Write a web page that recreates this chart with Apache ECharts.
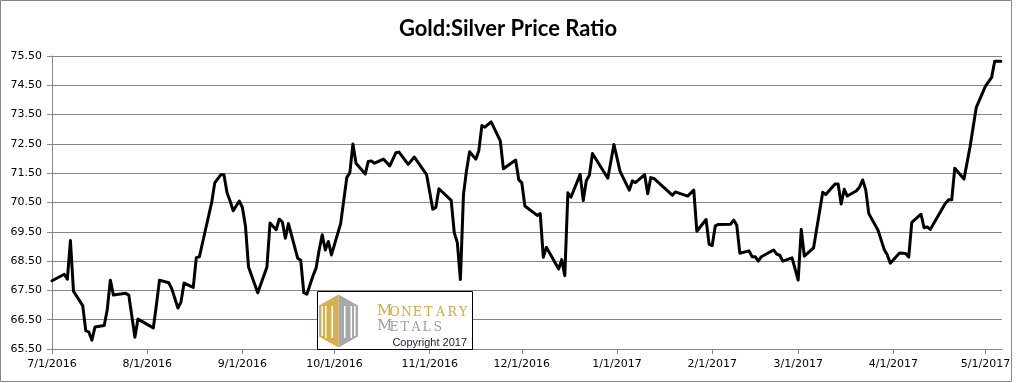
<!DOCTYPE html>
<html><head><meta charset="utf-8">
<script src="https://cdn.jsdelivr.net/npm/echarts@6/dist/echarts.min.js"></script>
<style>html,body{margin:0;padding:0;background:#fff}#c{width:1016px;height:383px}</style>
</head><body><div id="c"></div>
<script>
const chartTitle = 'Gold:Silver Price Ratio';
const dates = [
'2016-07-01','2016-07-05','2016-07-06','2016-07-07','2016-07-08','2016-07-11','2016-07-12','2016-07-13','2016-07-14','2016-07-15',
'2016-07-18','2016-07-19','2016-07-20','2016-07-21','2016-07-25','2016-07-26','2016-07-28','2016-07-29','2016-08-03','2016-08-04',
'2016-08-05','2016-08-08','2016-08-09','2016-08-11','2016-08-12','2016-08-13','2016-08-16','2016-08-17','2016-08-18','2016-08-20',
'2016-08-22','2016-08-23','2016-08-25','2016-08-26','2016-08-27','2016-08-28','2016-08-29','2016-08-31','2016-09-01','2016-09-02',
'2016-09-03','2016-09-06','2016-09-09','2016-09-10','2016-09-12','2016-09-13','2016-09-14','2016-09-15','2016-09-16','2016-09-19',
'2016-09-20','2016-09-21','2016-09-22','2016-09-24','2016-09-25','2016-09-26','2016-09-27','2016-09-28','2016-09-29','2016-09-30',
'2016-10-03','2016-10-05','2016-10-06','2016-10-07','2016-10-08','2016-10-11','2016-10-12','2016-10-13','2016-10-14','2016-10-17',
'2016-10-19','2016-10-21','2016-10-22','2016-10-25','2016-10-27','2016-10-31','2016-11-02','2016-11-03','2016-11-04','2016-11-08',
'2016-11-09','2016-11-10','2016-11-11','2016-11-12','2016-11-13','2016-11-14','2016-11-16','2016-11-17','2016-11-18','2016-11-19',
'2016-11-21','2016-11-24','2016-11-25','2016-11-29','2016-11-30','2016-12-01','2016-12-02','2016-12-06','2016-12-07','2016-12-08',
'2016-12-09','2016-12-13','2016-12-14','2016-12-15','2016-12-16','2016-12-17','2016-12-20','2016-12-21','2016-12-22','2016-12-23',
'2016-12-24','2016-12-29','2016-12-31','2017-01-02','2017-01-05','2017-01-06','2017-01-07','2017-01-10','2017-01-11','2017-01-12',
'2017-01-13','2017-01-19','2017-01-20','2017-01-24','2017-01-26','2017-01-27','2017-01-30','2017-01-31','2017-02-01','2017-02-02',
'2017-02-03','2017-02-07','2017-02-08','2017-02-09','2017-02-10','2017-02-13','2017-02-14','2017-02-15','2017-02-16','2017-02-17',
'2017-02-21','2017-02-22','2017-02-23','2017-02-24','2017-02-27','2017-03-01','2017-03-02','2017-03-03','2017-03-06','2017-03-09',
'2017-03-10','2017-03-13','2017-03-14','2017-03-15','2017-03-16','2017-03-17','2017-03-20','2017-03-21','2017-03-22','2017-03-23',
'2017-03-24','2017-03-27','2017-03-29','2017-03-30','2017-03-31','2017-04-03','2017-04-05','2017-04-06','2017-04-07','2017-04-10',
'2017-04-11','2017-04-12','2017-04-13','2017-04-18','2017-04-19','2017-04-20','2017-04-21','2017-04-24','2017-04-26','2017-04-28',
'2017-05-01','2017-05-03','2017-05-04','2017-05-06'
];
const ratios = [
67.83,68.05,67.88,69.20,67.47,66.98,66.13,66.08,65.80,66.25,
66.30,66.85,67.85,67.34,67.40,67.34,65.90,66.52,66.22,67.00,
67.85,67.76,67.56,66.90,67.10,67.75,67.60,68.62,68.65,69.58,
70.50,71.17,71.45,71.45,70.83,70.55,70.22,70.55,70.33,69.70,
68.30,67.42,68.30,69.80,69.57,69.93,69.84,69.28,69.78,68.60,
68.53,67.42,67.37,68.00,68.26,68.88,69.40,68.88,69.17,68.71,
69.78,71.35,71.52,72.50,71.84,71.47,71.90,71.92,71.84,71.98,
71.75,72.20,72.22,71.80,72.05,71.45,70.27,70.33,70.97,70.57,
69.47,69.13,67.87,70.77,71.60,72.23,71.98,72.27,73.13,73.07,
73.25,72.60,71.65,71.95,71.28,71.17,70.38,70.06,70.12,68.63,
68.97,68.23,68.55,68.00,70.83,70.68,71.46,70.57,71.24,71.43,
72.17,71.33,72.48,71.56,70.92,71.24,71.18,71.45,70.80,71.35,
71.32,70.75,70.86,70.72,70.92,69.52,69.92,69.07,69.03,69.70,
69.75,69.76,69.90,69.72,68.77,68.85,68.65,68.65,68.50,68.65,
68.88,68.74,68.70,68.50,68.61,67.85,69.58,68.67,68.95,70.85,
70.77,71.13,71.13,70.45,70.95,70.72,70.90,71.03,71.27,70.93,
70.12,69.55,68.90,68.72,68.43,68.78,68.76,68.64,69.82,70.10,
69.64,69.67,69.58,70.48,70.59,70.59,71.67,71.30,72.42,73.75,
74.47,74.77,75.32,75.32
];
const xStart = '2016-07-01';
const xEnd = '2017-05-06 09:00';
const yMin = 65.5, yMax = 75.5, yStep = 1;
const logoWord1 = 'MONETARY', logoWord2 = 'METALS', logoCopy = 'Copyright 2017';

const seriesData = dates.map((d, i) => [d, ratios[i]]);
const gridColor = '#868686';
const lblFont = 'DejaVu Sans';

function letters(word, x0, yBase, adv, color) {
  const out = [];
  for (let i = 0; i < word.length; i++) {
    const first = i === 0;
    out.push({
      type: 'text', z: 101,
      style: {
        x: x0 + (first ? 0 : adv[0] + (i - 1) * adv[1]), y: yBase,
        text: word[i], fill: color,
        font: (first ? '15px' : '12.5px') + ' "DejaVu Serif"',
        textVerticalAlign: 'bottom'
      }
    });
  }
  return out;
}

const gold = '#D6B04A', grey = '#A8A8A8';
const logo = [
  {type: 'rect', z: 100, shape: {x: 317.5, y: 291.5, width: 155, height: 58}, style: {fill: '#fff', stroke: '#000', lineWidth: 1}},
  {type: 'polygon', z: 101, shape: {points: [[338.5, 294.5], [338.5, 347.5], [319, 336.5], [319, 305.5]]}, style: {fill: gold}},
  {type: 'polygon', z: 101, shape: {points: [[338.5, 294.5], [358, 305.5], [358, 336.5], [338.5, 347.5]]}, style: {fill: grey}},
  {type: 'rect', z: 102, shape: {x: 325, y: 306, width: 1.5, height: 32}, style: {fill: '#fff'}},
  {type: 'rect', z: 102, shape: {x: 331.5, y: 306, width: 1.5, height: 32}, style: {fill: '#fff'}},
  {type: 'rect', z: 102, shape: {x: 344, y: 306, width: 1.5, height: 32}, style: {fill: '#fff'}},
  {type: 'rect', z: 102, shape: {x: 350.5, y: 306, width: 1.5, height: 32}, style: {fill: '#fff'}},
  {type: 'rect', z: 102, shape: {x: 321.5, y: 306, width: 1.5, height: 30}, style: {fill: '#fff'}},
  {type: 'rect', z: 102, shape: {x: 354, y: 306, width: 1.5, height: 30}, style: {fill: '#fff'}},
  ...letters(logoWord1, 377, 319, [12.5, 11.6], '#D1A93C'),
  ...letters(logoWord2, 377, 334, [12.5, 11.0], '#9E9E9E'),
  {type: 'text', z: 101, style: {x: 467, y: 348, text: logoCopy, fill: '#1a1a3a', font: '11px "Liberation Sans"', textAlign: 'right', textVerticalAlign: 'bottom'}},
  {type: 'rect', z: 0, silent: true, shape: {x: 0.5, y: 0.5, width: 1011, height: 381}, style: {fill: 'none', stroke: '#868686', lineWidth: 1}}
];

const chart = echarts.init(document.getElementById('c'), null, {renderer: 'canvas'});
chart.setOption({
  animation: false,
  backgroundColor: '#fff',
  title: {text: chartTitle, left: 'center', top: 13, textStyle: {fontFamily: 'Lato', fontWeight: 'bold', fontSize: 22, color: '#000'}},
  grid: {left: 52, right: 14, top: 56, bottom: 34},
  xAxis: {
    type: 'time', min: xStart, max: xEnd,
    minInterval: 28 * 864e5, maxInterval: 31 * 864e5,
    axisLine: {show: true, lineStyle: {color: gridColor, width: 1}},
    axisTick: {show: true, length: 5, lineStyle: {color: gridColor}},
    splitLine: {show: false},
    axisLabel: {
      fontFamily: lblFont, fontSize: 11, color: '#000', margin: 10, hideOverlap: false,
      showMinLabel: true, showMaxLabel: false,
      formatter: v => { const d = new Date(v); return (d.getMonth() + 1) + '/' + d.getDate() + '/' + d.getFullYear(); }
    }
  },
  yAxis: {
    type: 'value', min: yMin, max: yMax, interval: yStep,
    axisLine: {show: true, lineStyle: {color: gridColor, width: 1}},
    axisTick: {show: true, length: 5, lineStyle: {color: gridColor}},
    splitLine: {show: true, lineStyle: {color: gridColor, width: 1}},
    axisLabel: {fontFamily: lblFont, fontSize: 11, color: '#000', margin: 10, formatter: v => v.toFixed(2)}
  },
  series: [{
    type: 'line', data: seriesData, showSymbol: false, symbol: 'none',
    lineStyle: {color: '#000', width: 3, join: 'round', cap: 'round'},
    z: 5
  }],
  graphic: logo
});
</script></body></html>
